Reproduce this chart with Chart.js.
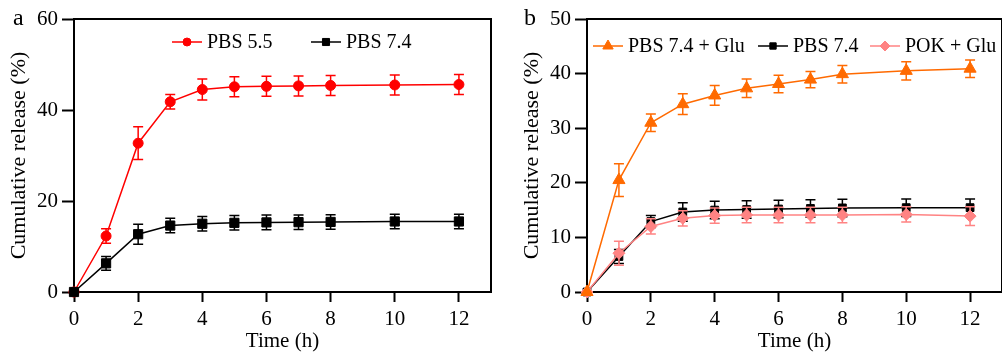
<!DOCTYPE html>
<html lang="en">
<head>
  <meta charset="UTF-8" />
  <title>Cumulative release</title>
  <script src="https://cdn.jsdelivr.net/npm/chart.js"></script>
  <style>
    body {
      margin: 0;
      background: #fff;
      overflow: hidden;
      width: 1002px;
      height: 355px;
      position: relative;
    }
    .panel {
      position: absolute;
      top: 0;
    }
    #panelA { left: 0; }
    #panelB { left: 500px; }
  </style>
</head>
<body>
  <div class="panel" id="panelA"><canvas id="chartA" width="500" height="355"></canvas></div>
  <div class="panel" id="panelB"><canvas id="chartB" width="510" height="355"></canvas></div>

  <script>
    // data
    const timeH = [0, 1, 2, 3, 4, 5, 6, 7, 8, 10, 12];

    const pbs55 = [0, 12.3, 32.7, 41.8, 44.5, 45.1, 45.2, 45.3, 45.4, 45.5, 45.6];
    const pbs55Err = [0, 1.6, 3.6, 1.6, 2.3, 2.2, 2.2, 2.2, 2.2, 2.2, 2.2];
    const pbs74a = [0, 6.3, 12.7, 14.6, 15.0, 15.2, 15.3, 15.35, 15.4, 15.5, 15.5];
    const pbs74aErr = [0, 1.5, 2.2, 1.6, 1.6, 1.6, 1.6, 1.6, 1.6, 1.6, 1.6];

    const pbs74Glu = [0, 20.5, 31.0, 34.4, 36.0, 37.3, 38.1, 38.9, 39.9, 40.5, 40.9];
    const pbs74GluErr = [0, 3.0, 1.6, 1.9, 1.8, 1.7, 1.6, 1.5, 1.6, 1.65, 1.6];
    const pbs74b = [0, 6.5, 12.9, 14.65, 15.0, 15.1, 15.2, 15.3, 15.4, 15.45, 15.45];
    const pbs74bErr = [0, 1.3, 1.1, 1.7, 1.6, 1.6, 1.6, 1.6, 1.6, 1.6, 1.6];
    const pokGlu = [0, 7.1, 12.0, 13.5, 14.0, 14.1, 14.1, 14.1, 14.1, 14.2, 13.9];
    const pokGluErr = [0, 2.2, 1.4, 1.4, 1.4, 1.4, 1.4, 1.4, 1.4, 1.4, 1.7];

    const xTicks = [0, 2, 4, 6, 8, 10, 12];
    const yTicksA = [0, 20, 40, 60];
    const yTicksB = [0, 10, 20, 30, 40, 50];

    const serif = "'Liberation Serif', 'Times New Roman', serif";

    const toPoints = vals => vals.map((v, i) => ({ x: timeH[i], y: v }));

    // vertical error bars with caps, drawn just before each line
    const errorBars = {
      id: 'errorBars',
      beforeDatasetDraw(chart, args) {
        const ds = chart.data.datasets[args.index];
        if (!ds.errors) return;
        const xs = chart.scales.x, ys = chart.scales.y;
        const ctx = chart.ctx;
        ctx.save();
        ctx.strokeStyle = ds.borderColor;
        ctx.lineWidth = 1.5;
        ds.data.forEach((p, i) => {
          const e = ds.errors[i];
          if (!e) return;
          const px = xs.getPixelForValue(p.x);
          const top = ys.getPixelForValue(p.y + e);
          const bot = ys.getPixelForValue(p.y - e);
          ctx.beginPath();
          ctx.moveTo(px, top); ctx.lineTo(px, bot);
          ctx.moveTo(px - 5, top); ctx.lineTo(px + 5, top);
          ctx.moveTo(px - 5, bot); ctx.lineTo(px + 5, bot);
          ctx.stroke();
        });
        ctx.restore();
      }
    };

    // top and right frame lines, panel letter, line+marker legend
    const frame = {
      id: 'frame',
      afterDraw(chart, args, opts) {
        const { ctx, chartArea: a } = chart;
        ctx.save();
        ctx.strokeStyle = '#000';
        ctx.lineWidth = 2;
        ctx.beginPath();
        ctx.moveTo(a.left - 1, a.top);
        ctx.lineTo(a.right, a.top);
        ctx.lineTo(a.right, a.bottom + 1);
        ctx.stroke();

        ctx.fillStyle = '#000';
        ctx.font = '24px ' + serif;
        ctx.textBaseline = 'alphabetic';
        ctx.textAlign = 'left';
        ctx.fillText(opts.letter, opts.letterX, 25);

        ctx.font = '20px ' + serif;
        ctx.textBaseline = 'middle';
        chart.data.datasets.forEach((ds, i) => {
          const x0 = opts.legendX[i];
          const y = opts.legendY;
          ctx.strokeStyle = ds.borderColor;
          ctx.lineWidth = 1.5;
          ctx.beginPath();
          ctx.moveTo(x0, y);
          ctx.lineTo(x0 + 30, y);
          ctx.stroke();
          ctx.fillStyle = ds.backgroundColor;
          ctx.strokeStyle = ds.borderColor;
          ctx.lineWidth = 1;
          Chart.helpers.drawPoint(ctx, {
            pointStyle: ds.pointStyle,
            radius: ds.legendRadius,
            rotation: 0,
            borderWidth: 1
          }, x0 + 15, y);
          ctx.fillStyle = '#000';
          ctx.fillText(ds.label, x0 + 35, y + 1);
        });
        ctx.restore();
      }
    };

    function makeSeries(label, vals, errs, color, style, radius, legendRadius, order) {
      return {
        label: label,
        data: toPoints(vals),
        errors: errs,
        borderColor: color,
        backgroundColor: color,
        borderWidth: 1.5,
        pointStyle: style,
        pointRadius: radius,
        pointHoverRadius: radius,
        pointBorderWidth: 1,
        legendRadius: legendRadius,
        tension: 0,
        clip: false,
        order: order
      };
    }

    function axisOptions(yTicks, yMax, yWidth, yTitlePad) {
      return {
        x: {
          type: 'linear',
          min: 0,
          max: 13,
          afterBuildTicks: s => { s.ticks = xTicks.map(v => ({ value: v })); },
          afterFit: s => { s.height = 63; },
          border: { display: true, color: '#000', width: 2 },
          grid: { drawOnChartArea: false, drawTicks: true, tickLength: 10, tickWidth: 2, tickColor: '#000' },
          ticks: { color: '#000', font: { family: serif, size: 21 }, padding: 5, maxRotation: 0 },
          title: { display: true, text: 'Time (h)', color: '#000', font: { family: serif, size: 21 }, padding: { top: 0, bottom: 1 } }
        },
        y: {
          type: 'linear',
          min: 0,
          max: yMax,
          afterBuildTicks: s => { s.ticks = yTicks.map(v => ({ value: v })); },
          afterFit: s => { s.width = yWidth; },
          border: { display: true, color: '#000', width: 2 },
          grid: { drawOnChartArea: false, drawTicks: true, tickLength: 12, tickWidth: 2, tickColor: '#000' },
          ticks: { color: '#000', font: { family: serif, size: 21 }, padding: 4 },
          title: { display: true, text: 'Cumulative release (%)', color: '#000', font: { family: serif, size: 22 }, padding: { top: yTitlePad, bottom: 0 } }
        }
      };
    }

    const baseOptions = {
      responsive: false,
      animation: false,
      devicePixelRatio: 1,
      plugins: { legend: { display: false }, tooltip: { enabled: false } }
    };

    new Chart(document.getElementById('chartA'), {
      type: 'line',
      data: {
        datasets: [
          makeSeries('PBS 5.5', pbs55, pbs55Err, '#ff0000', 'circle', 5, 4, 2),
          makeSeries('PBS 7.4', pbs74a, pbs74aErr, '#000000', 'rect', 6.5, 5, 1)
        ]
      },
      options: Object.assign({}, baseOptions, {
        layout: { padding: { top: 19, right: 9, left: 0, bottom: 0 } },
        scales: axisOptions(yTicksA, 60, 74, 6),
        plugins: Object.assign({}, baseOptions.plugins, {
          frame: { letter: 'a', letterX: 13, legendX: [172, 311], legendY: 42 }
        })
      }),
      plugins: [errorBars, frame]
    });

    new Chart(document.getElementById('chartB'), {
      type: 'line',
      data: {
        datasets: [
          makeSeries('PBS 7.4 + Glu', pbs74Glu, pbs74GluErr, '#ff6a00', 'triangle', 7, 6, 0),
          makeSeries('PBS 7.4', pbs74b, pbs74bErr, '#000000', 'rect', 5.5, 4.5, 2),
          makeSeries('POK + Glu', pokGlu, pokGluErr, '#ff8383', 'rectRot', 6, 5, 1)
        ]
      },
      options: Object.assign({}, baseOptions, {
        layout: { padding: { top: 19, right: 7, left: 0, bottom: 0 } },
        scales: axisOptions(yTicksB, 50, 87, 19),
        plugins: Object.assign({}, baseOptions.plugins, {
          frame: { letter: 'b', letterX: 24, legendX: [93, 258, 370], legendY: 46 }
        })
      }),
      plugins: [errorBars, frame]
    });
  </script>
</body>
</html>
